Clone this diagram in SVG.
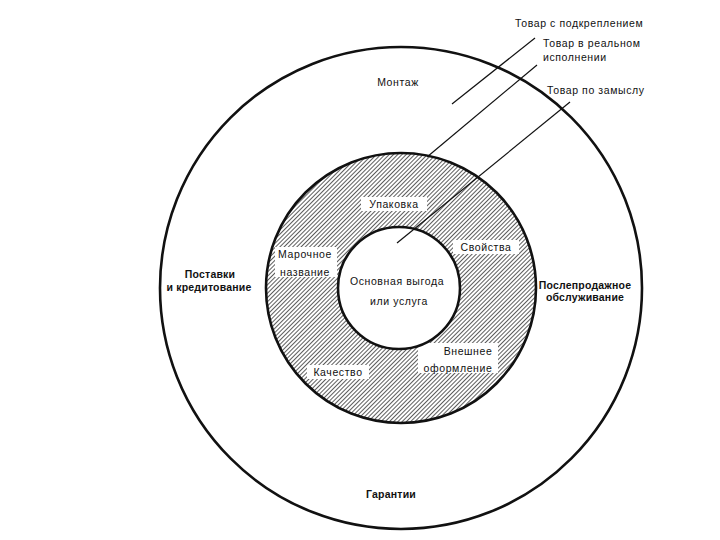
<svg xmlns="http://www.w3.org/2000/svg" width="720" height="540" viewBox="0 0 720 540">
<defs>
<pattern id="hatch" patternUnits="userSpaceOnUse" width="3" height="10" patternTransform="rotate(45)">
<line x1="0.5" y1="0" x2="0.5" y2="10" stroke="#333" stroke-width="0.8"/>
</pattern>
</defs>
<style>
text{font-family:"Liberation Sans",Arial,sans-serif;font-size:10.5px;fill:#111;letter-spacing:0.6px}
.b{font-weight:bold;letter-spacing:0.2px}
.ring{stroke:#111;stroke-width:2.6}
.lead{stroke:#111;stroke-width:1.2;fill:none}
.bg{fill:#fff}
</style>
<rect width="720" height="540" fill="#fff"/>
<g id="outer">
<circle class="ring" cx="401" cy="288" r="241" fill="#fff"/>
<text x="398" y="86" text-anchor="middle">Монтаж</text>
<text class="b" x="210" y="278" text-anchor="middle">Поставки</text>
<text class="b" x="209" y="291" text-anchor="middle">и кредитование</text>
<text class="b" x="585" y="289" text-anchor="middle">Послепродажное</text>
<text class="b" x="585" y="301" text-anchor="middle">обслуживание</text>
<text class="b" x="391" y="498" text-anchor="middle">Гарантии</text>
</g>
<g id="middle">
<circle class="ring" cx="401" cy="288" r="135" fill="url(#hatch)" stroke-width="3"/>
<rect class="bg" x="361" y="197" width="66" height="14"/>
<text x="394" y="208" text-anchor="middle">Упаковка</text>
<rect class="bg" x="453" y="240" width="66" height="14"/>
<text x="486" y="251" text-anchor="middle">Свойства</text>
<rect class="bg" x="275" y="247" width="62" height="30"/>
<text x="305" y="258" text-anchor="middle">Марочное</text>
<text x="305" y="276" text-anchor="middle">название</text>
<rect class="bg" x="418" y="343" width="80" height="30"/>
<text x="468" y="355" text-anchor="middle">Внешнее</text>
<text x="458" y="372" text-anchor="middle">оформление</text>
<rect class="bg" x="307" y="365" width="62" height="14"/>
<text x="338" y="376" text-anchor="middle">Качество</text>
</g>
<g id="inner">
<circle class="ring" cx="399" cy="288" r="61" fill="#fff"/>
<text x="397" y="285" text-anchor="middle">Основная выгода</text>
<text x="399" y="305" text-anchor="middle">или услуга</text>
</g>
<g id="connectors">
<line class="lead" x1="452" y1="104" x2="535" y2="38"/>
<line class="lead" x1="427" y1="157" x2="537" y2="65"/>
<line class="lead" x1="397" y1="243" x2="570" y2="102"/>
</g>
<g id="labels">
<text x="515" y="27">Товар с подкреплением</text>
<text x="543" y="47">Товар в реальном</text>
<text x="543" y="61">исполнении</text>
<text x="547" y="94">Товар по замыслу</text>
</g>
</svg>
